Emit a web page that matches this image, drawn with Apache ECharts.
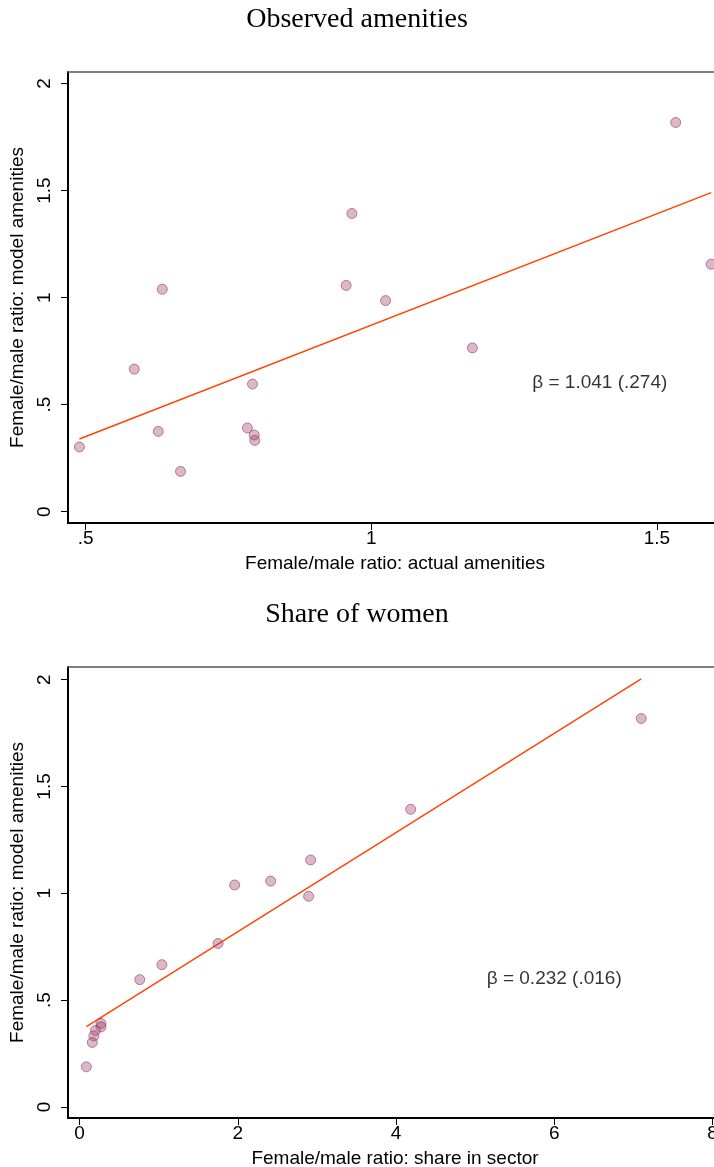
<!DOCTYPE html>
<html><head><meta charset="utf-8">
<script src="https://cdn.jsdelivr.net/npm/echarts@6/dist/echarts.min.js"></script>
<style>html,body{margin:0;padding:0;background:#fff}#c{width:714px;height:1167px}</style>
</head><body><div id="c"></div>
<script>
// ---- data ----
const modelAmenities  = [0.188,0.302,0.333,0.358,0.375,0.391,0.596,0.666,0.765,0.986,1.039,1.057,1.156,1.393,1.818];
const actualAmenities = [0.666,0.489,0.796,0.795,0.627,0.783,0.792,0.585,1.177,1.025,0.634,0.956,1.595,0.966,1.533];
const shareInSector   = [0.085,0.160,0.180,0.200,0.270,0.270,0.760,1.040,1.750,2.895,1.960,2.415,2.920,4.185,7.100];
const panelTitles = ['Observed amenities','Share of women'];
const xNames = ['Female/male ratio: actual amenities','Female/male ratio: share in sector'];
const yName = 'Female/male ratio: model amenities';
const betas = [1.041, 0.232];
const betaTexts = ['\u03B2 = 1.041 (.274)','\u03B2 = 0.232 (.016)'];
const betaPos = [[1.4,0.6],[6,0.6]];
const yTicks = [0,0.5,1,1.5,2];
const xTicksTop = [0.5,1,1.5];
const xTicksBottom = [0,2,4,6,8];

// ---- helpers ----
function fitLine(xs, ys, b){
  const n = xs.length;
  const mx = xs.reduce((a,v)=>a+v,0)/n, my = ys.reduce((a,v)=>a+v,0)/n;
  const a = my - b*mx;
  const x0 = Math.min(...xs), x1 = Math.max(...xs);
  return [[x0, a+b*x0],[x1, a+b*x1]];
}
const fmt = v => (v===0 ? '0' : String(v).replace(/^0\./,'.'));
const FONT = 'Liberation Sans';
const markerStyle = {color:'rgba(150,55,100,0.44)', borderColor:'rgba(150,55,100,0.75)', borderWidth:1};
const lineStyle = {color:'#ff4500', width:1.5};

const xSets = [actualAmenities, shareInSector];
const xTickSets = [xTicksTop, xTicksBottom];
const xExt = [[0.469,1.600],[-0.147,8.02]];
const yExt = [[-0.053,2.054],[-0.0515,2.059]];
const gridTops = [72, 667];

const option = {animation:false, backgroundColor:'#fff',
  title:[], grid:[], xAxis:[], yAxis:[], series:[]};

for (let i=0;i<2;i++){
  option.title.push({text:panelTitles[i], left:'center', top: i===0 ? 1 : 596,
    textStyle:{fontFamily:'Liberation Serif', fontSize:28, fontWeight:'normal', color:'#000'}});
  option.grid.push({left:68, top:gridTops[i], right:0, height:451, outerBoundsMode:'none', containLabel:false});
  option.xAxis.push({type:'value', gridIndex:i, min:xExt[i][0], max:xExt[i][1], position:'bottom',
    name:xNames[i], nameLocation:'middle', nameGap:31,
    nameTextStyle:{fontFamily:FONT, fontSize:19, color:'#000', padding:[0,0,0,8]},
    axisLine:{show:true, onZero:false, lineStyle:{color:'#000', width:2}},
    axisTick:{show:true, length:7, customValues:xTickSets[i], lineStyle:{color:'#000', width:1}},
    axisLabel:{show:true, margin:6, customValues:xTickSets[i], formatter:fmt, fontFamily:FONT, fontSize:19, color:'#000', showMaxLabel:true},
    splitLine:{show:false}});
  option.xAxis.push({type:'value', gridIndex:i, min:xExt[i][0], max:xExt[i][1], position:'top',
    axisLine:{show:true, onZero:false, lineStyle:{color:'#555', width:1.5}},
    axisTick:{show:false}, axisLabel:{show:false}, splitLine:{show:false}});
  option.yAxis.push({type:'value', gridIndex:i, min:yExt[i][0], max:yExt[i][1],
    name:yName, nameLocation:'middle', nameGap:29, nameRotate:90,
    nameTextStyle:{fontFamily:FONT, fontSize:19, color:'#000'},
    axisLine:{show:true, onZero:false, lineStyle:{color:'#000', width:2}},
    axisTick:{show:true, length:7, customValues:yTicks, lineStyle:{color:'#000', width:1}},
    axisLabel:{show:true, rotate:90, margin:14, customValues:yTicks, formatter:fmt, fontFamily:FONT, fontSize:19, color:'#000'},
    splitLine:{show:false}});
  option.series.push({type:'line', xAxisIndex:2*i, yAxisIndex:i, data:fitLine(xSets[i], modelAmenities, betas[i]),
    symbol:'none', lineStyle:lineStyle, silent:true, z:2, clip:false});
  option.series.push({type:'scatter', xAxisIndex:2*i, yAxisIndex:i,
    data:xSets[i].map((x,k)=>[x, modelAmenities[k]]),
    symbol:'circle', symbolSize:10, itemStyle:markerStyle, silent:true, z:3, clip:false});
  option.series.push({type:'scatter', xAxisIndex:2*i, yAxisIndex:i, data:[betaPos[i]],
    symbolSize:0.1, itemStyle:{color:'rgba(0,0,0,0)'}, silent:true, z:4,
    label:{show:true, position:'inside', formatter:betaTexts[i], fontFamily:FONT, fontSize:19, color:'#000', textBorderWidth:0}});
}
const chart = echarts.init(document.getElementById('c'), null, {renderer:'canvas'});
chart.setOption(option);
</script></body></html>
